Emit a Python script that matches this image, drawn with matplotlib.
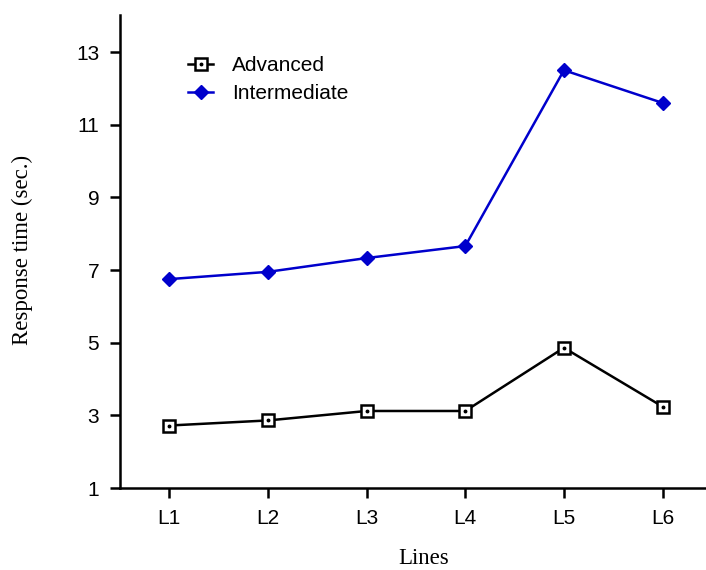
import matplotlib
matplotlib.use("Agg")
import matplotlib.pyplot as plt

categories = ["L1", "L2", "L3", "L4", "L5", "L6"]
advanced = [2.72, 2.86, 3.12, 3.12, 4.86, 3.24]
intermediate = [6.75, 6.95, 7.33, 7.66, 12.5, 11.6]
yticks = [1, 3, 5, 7, 9, 11, 13]

W, H = 706, 570
fig = plt.figure(figsize=(W / 100, H / 100), dpi=100)
ax = fig.add_axes([120 / W, (H - 488) / H, (W - 120) / W, (488 - 15) / H])

x = list(range(1, len(categories) + 1))
l1, = ax.plot(x, advanced, color="black", lw=1.8, marker="s", markersize=8.5,
              markerfacecolor="white", markeredgecolor="black", markeredgewidth=1.8,
              clip_on=False, zorder=3)
d1, = ax.plot(x, advanced, linestyle="none", marker="o", markersize=1.8,
              color="black", clip_on=False, zorder=4)
l2, = ax.plot(x, intermediate, color="#0000CC", lw=1.8, marker="D", markersize=7,
              markerfacecolor="#0000CC", markeredgecolor="#0000CC", clip_on=False, zorder=3)

ax.set_xlim(0.5, 6.44)
ax.set_ylim(1, 14.02)
ax.set_xticks(x)
ax.set_xticklabels(categories)
ax.set_yticks(yticks)

for s in ["top", "right"]:
    ax.spines[s].set_visible(False)
for s in ["left", "bottom"]:
    ax.spines[s].set_linewidth(1.8)

ax.tick_params(axis="both", direction="out", length=7, width=1.8,
               labelsize=15, pad=8)
for lab in ax.get_xticklabels() + ax.get_yticklabels():
    lab.set_fontfamily("Liberation Sans")

fig.text(424 / W, 1 / H, "Lines", family="Liberation Serif", fontsize=16.5,
         ha="center", va="bottom")
fig.text(22 / W, 1 - 250 / H, "Response time (sec.)", family="Liberation Serif",
         fontsize=16.5, rotation=90, ha="center", va="center")

leg = fig.legend([(l1, d1), l2], ["Advanced", "Intermediate"], loc="upper left",
                 bbox_to_anchor=(188 / W, 1 - 56 / H), frameon=False,
                 borderpad=0, borderaxespad=0, handlelength=1.2,
                 handletextpad=0.9, labelspacing=0.45,
                 prop={"family": "Liberation Sans", "size": 15})

fig.savefig("out.png", dpi=100)
